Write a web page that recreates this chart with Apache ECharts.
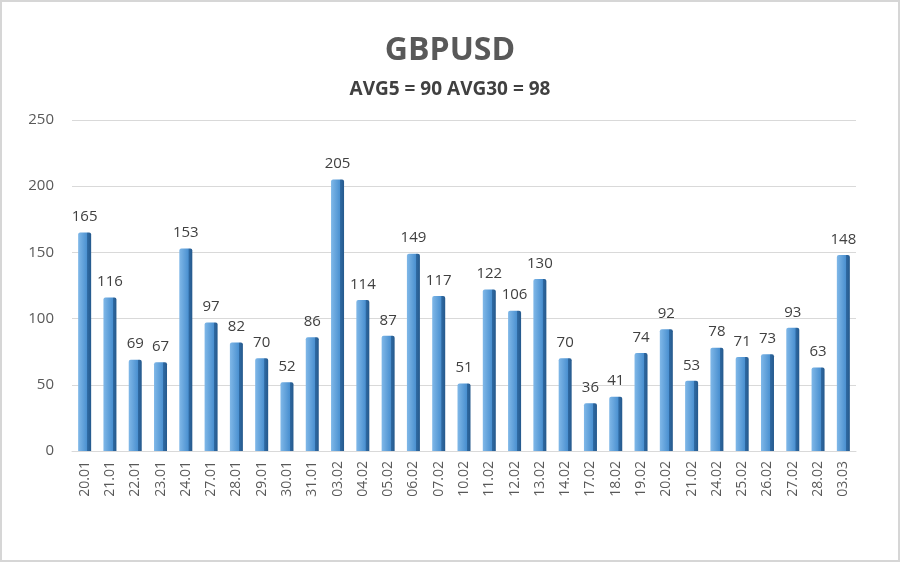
<!DOCTYPE html>
<html><head><meta charset="utf-8">
<script src="https://cdn.jsdelivr.net/npm/echarts@6/dist/echarts.min.js"></script>
<style>html,body{margin:0;padding:0;background:#fff}#c{width:900px;height:562px;box-sizing:border-box;border:2px solid #d6d6d6}</style>
</head><body><div id="c"></div>
<script>
const categories = ["20.01","21.01","22.01","23.01","24.01","27.01","28.01","29.01","30.01","31.01","03.02","04.02","05.02","06.02","07.02","10.02","11.02","12.02","13.02","14.02","17.02","18.02","19.02","20.02","21.02","24.02","25.02","26.02","27.02","28.02","03.03"];
const values = [165,116,69,67,153,97,82,70,52,86,205,114,87,149,117,51,122,106,130,70,36,41,74,92,53,78,71,73,93,63,148];
const titleText = "GBPUSD";
const subtitleText = "AVG5 = 90 AVG30 = 98";
const chart = echarts.init(document.getElementById('c'), null, {renderer:'canvas'});
chart.setOption({
  animation:false,
  backgroundColor:'#fff',
  title:{text:titleText, subtext:subtitleText, left:'center', top:28,
    textStyle:{fontFamily:'Open Sans', fontWeight:'bold', fontSize:32, color:'#595959'},
    subtextStyle:{fontFamily:'Open Sans', fontWeight:'bold', fontSize:19, color:'#404040'}, itemGap:13},
  grid:{left:70, right:42, top:118, bottom:109, containLabel:false},
  xAxis:{type:'category', data:categories,
    axisLine:{show:true, lineStyle:{color:'#d9d9d9'}}, axisTick:{show:false},
    axisLabel:{rotate:90, fontFamily:'Open Sans', fontSize:14, color:'#595959', margin:10}},
  yAxis:{type:'value', min:0, max:250, interval:50,
    axisLine:{show:false}, axisTick:{show:false},
    splitLine:{lineStyle:{color:'#d9d9d9', width:1}},
    axisLabel:{fontFamily:'Open Sans', fontSize:15, color:'#595959', margin:18}},
  series:[{type:'bar', data:values, barWidth:13,
    itemStyle:{color:new echarts.graphic.LinearGradient(0,0,1,0,[
      {offset:0,color:'#80b8e8'},{offset:0.7,color:'#4a90d0'},{offset:0.72,color:'#2f6aa3'},{offset:1,color:'#25598c'}]),
      borderRadius:[2,2,0,0]},
    label:{show:true, position:'top', distance:8, fontFamily:'Open Sans', fontSize:15, color:'#404040'}}]
});
</script></body></html>
